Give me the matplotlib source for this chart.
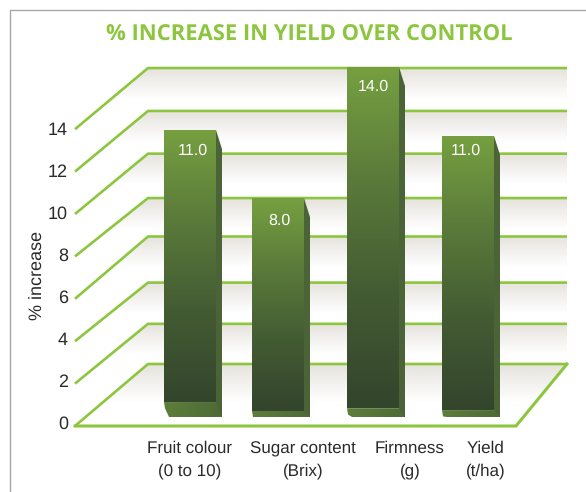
import numpy as np
import matplotlib
matplotlib.use('Agg')
import matplotlib.pyplot as plt
from matplotlib.colors import LinearSegmentedColormap
from matplotlib.patches import Polygon

TITLE = '% INCREASE IN YIELD OVER CONTROL'
Y_LABEL = '% increase'
categories = ['Fruit colour\n(0 to 10)', 'Sugar content\n(Brix)', 'Firmness\n(g)', 'Yield\n(t/ha)']
valueLabels = ['11.0', '8.0', '14.0', '11.0']
barTops = [11.07, 7.85, 14.05, 10.79]
barBottoms = [-1.8, -2.22, -2.09, -2.18]
yTicks = [0, 2, 4, 6, 8, 10, 12, 14]
backLevels = [0, 1.9, 3.85, 6.03, 7.85, 9.95, 11.97, 14.0]
###############################################################################
# Layout: x is in figure pixels, y is the % scale on the back plane
###############################################################################
(W, H, DPI) = (586, 492, 100)
(PX_ZERO, PX_UNIT) = (364, 21.14)
(GRN, INK) = ('#8cc63f', '#2a2a2a')
(BACK_L, BACK_R, FRONT_L, FRONT_R) = (148, 567, 75, 516)
BAR_X = [164, 252, 347, 442]
BAR_W = 52
SIDE_W = 6
LBL_X = [190, 303, 410, 486]
VAL_X = [193, 279, 373, 466]

def py(pixel):
    return (PX_ZERO-pixel)/PX_UNIT

def frontY(v):
    return py(426-21.2*v)

def tickY(v):
    return py(424-21*v)

def grad(ax, extent, clip, colors, horizontal=False):
    cmap = LinearSegmentedColormap.from_list('g', colors)
    arr = np.linspace(0, 1, 256)
    arr = arr.reshape(1, -1) if horizontal else arr.reshape(-1, 1)
    im = ax.imshow(arr, cmap=cmap, extent=extent, aspect='auto', origin='upper', zorder=clip[1])
    poly = Polygon(clip[0], transform=ax.transData, fc='none', ec='none')
    ax.add_patch(poly)
    im.set_clip_path(poly)

plt.rcParams['font.family'] = ['Liberation Sans', 'DejaVu Sans']
plt.rcParams['text.hinting'] = 'no_hinting'
plt.rcParams['text.hinting_factor'] = 1
(fig, ax) = plt.subplots(figsize=(W/DPI, H/DPI), dpi=DPI)
ax.set_position([0, 0, 1, 1])
ax.axis('off')
###############################################################################
# Shelves
###############################################################################
shade = ['#e6e2dd', '#f3f1ee', '#ffffff']
for (v, back) in zip(yTicks, backLevels):
    front = frontY(v)
    if v == 0:
        pts = [(BACK_L, 0), (BACK_R, 0), (FRONT_R, front), (FRONT_L, front)]
        grad(ax, (FRONT_L, BACK_R, -1.8, 0), (pts, 1), shade)
    else:
        lo = back-1.45
        frac = (back-lo)/(back-front)
        pts = [(BACK_L, back), (BACK_R, back), (BACK_R, lo), (BACK_L-frac*(BACK_L-FRONT_L), lo)]
        grad(ax, (FRONT_L, BACK_R, lo, back), (pts, 1), shade)
    ax.plot(
        [FRONT_L, BACK_L, BACK_R], [front, back, back], color=GRN, lw=1.9,
        zorder=2, solid_joinstyle='miter', solid_capstyle='butt'
    )
    ax.text(68, tickY(v), str(v), ha='right', va='center', fontsize=13.2, color=INK)
ax.plot(
    [FRONT_L, FRONT_R, BACK_R], [frontY(0), frontY(0), 0], color=GRN, lw=2.2,
    zorder=2, solid_joinstyle='miter'
)
###############################################################################
# Bars
###############################################################################
BASE_Y = py(417)
VAL_PX = [151, 221, 87, 151]
for (i, x0) in enumerate(BAR_X):
    (top, bot) = (barTops[i], barBottoms[i])
    x1 = x0+BAR_W
    base = [(x0, bot), (x1, bot), (x1+SIDE_W, bot), (x1+SIDE_W, BASE_Y), (x0+5, BASE_Y), (x0+1, bot-.3)]
    grad(ax, (x0, x1+SIDE_W, BASE_Y, bot), (base, 3), ['#5d7e3a', '#4e6a35'], horizontal=True)
    side = [(x1, top), (x1+SIDE_W, top-.9), (x1+SIDE_W, BASE_Y), (x1, bot)]
    ax.add_patch(Polygon(side, fc='#4a6337', ec='none', zorder=3))
    face = [(x0, top), (x1, top), (x1, bot), (x0, bot)]
    grad(ax, (x0, x1, bot, top), (face, 4), ['#76a040', '#5a7a3a', '#435b33', '#33452c'])
    ax.text(VAL_X[i], py(VAL_PX[i]), valueLabels[i], ha='center', va='center', fontsize=11.3, color='white', zorder=5)
    ax.text(
        LBL_X[i], py(441), categories[i], ha='center', va='top', fontsize=11.9,
        color=INK, linespacing=1.48, zorder=5
    )
###############################################################################
# Text and frame
###############################################################################
ax.text(309, py(35), TITLE, ha='center', va='center', fontsize=16.1, fontweight='bold', color=GRN, family='Open Sans')
ax.text(37, py(275), Y_LABEL, rotation=90, ha='center', va='center', fontsize=13, color=INK)
ax.plot([9.5, 9.5, W], [py(H), py(9.5), py(9.5)], color='#a8a8a8', lw=1)
ax.set_xlim(0, W)
ax.set_ylim(py(H), py(0))
fig.savefig('out.png', dpi=DPI)
plt.close('all')
